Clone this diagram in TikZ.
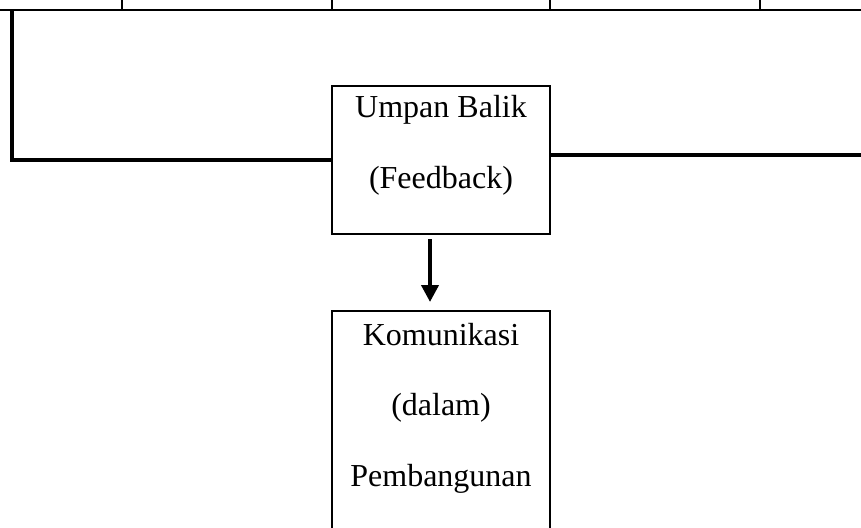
\documentclass[tikz,border=0pt]{standalone}
\usepackage{fontspec}
\setmainfont{Liberation Serif}
\usepackage{xcolor}
\definecolor{Col1}{RGB}{0,0,0}
\usetikzlibrary{arrows.meta}
\tikzstyle{Box}=[draw=Col1,line width=2pt,minimum width=218pt,inner sep=0pt]
\tikzstyle{Rule}=[draw=Col1,line width=2pt]
\tikzstyle{Edge}=[draw=Col1,line width=4pt]
\tikzstyle{Arrow}=[draw=Col1,line width=4pt,-{Triangle[length=17pt,width=17pt]}]
\tikzstyle{Line}=[font=\fontsize{32}{38}\selectfont,anchor=base,inner sep=0pt]

\begin{document}
\begin{tikzpicture}[x=1pt,y=-1pt]
        \useasboundingbox(0,0)rectangle(861,527);
        \node[Box,minimum height=148pt](fb)at(441,160){};
        \node[Box,minimum height=260pt](kp)at(441,441){};
        \node[Line](fb1)at(441,117){Umpan Balik};
        \node[Line](fb2)at(441,188){(Feedback)};
        \node[Line](kp1)at(441,345){Komunikasi};
        \node[Line](kp2)at(441,415){(dalam)};
        \node[Line](kp3)at(441,486){Pembangunan};
        \coordinate(t0)at(0,10);
        \coordinate(t1)at(861,10);
        \draw[Rule](t0)--(t1);
        \foreach \x in {122,332,550,760}
            \draw[Rule](\x,0)--(\x,10);
        \coordinate(lt)at(11.5,10);
        \coordinate(re)at(861,155);
        \draw[Edge](lt)|-(fb.west);
        \draw[Edge](fb.east|-re)--(re);
        \draw[Arrow]([xshift=-11pt,yshift=-4pt]fb.south)--([xshift=-11pt,yshift=8pt]kp.north);
    \end{tikzpicture}
\end{document}
